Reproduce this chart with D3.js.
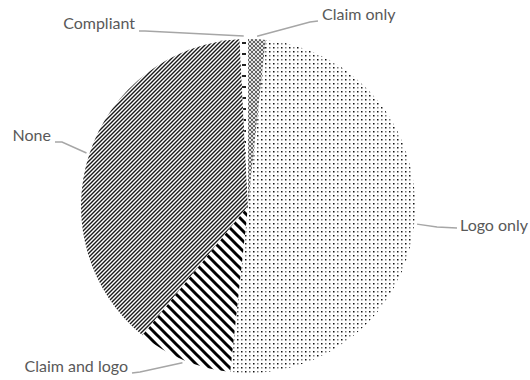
<!DOCTYPE html>
<html>
<head>
<meta charset="utf-8">
<script src="https://cdn.jsdelivr.net/npm/d3@7"></script>
<style>
  html, body { margin: 0; padding: 0; background: #fff; }
  svg { display: block; }
  .lbl { font-family: Lato, "Open Sans", sans-serif; font-size: 16px; fill: #595959; }
</style>
</head>
<body>
<div id="chart"></div>
<script>
// slices clockwise from 12 o'clock (share of labels, %)
const categories = ["Claim only", "Logo only", "Claim and logo", "None", "Compliant"];
const values = [1.7, 50.0, 9.2, 38.3, 0.8];

const W = 530, H = 380;
const cx = 248, cy = 206, R = 167;

// where each label sits and how its leader bends (layout only)
const labelLayout = {
  "Claim only":     { x: 322, y: 20,  anchor: "start", leader: [[318, 21], [310, 22]] },
  "Logo only":      { x: 460, y: 231, anchor: "start", leader: [[457, 228], [437, 227]] },
  "Claim and logo": { x: 128, y: 372, anchor: "end",   leader: [[132, 373], [140, 372]] },
  "None":           { x: 51,  y: 141, anchor: "end",   leader: [[55, 142], [62, 142]] },
  "Compliant":      { x: 135, y: 29,  anchor: "end",   leader: [[139, 31], [145, 31]] },
};

const svg = d3.select("#chart").append("svg")
  .attr("width", W).attr("height", H);
const defs = svg.append("defs");

function pattern(id, w, h) {
  const p = defs.append("pattern").attr("id", id)
    .attr("patternUnits", "userSpaceOnUse").attr("width", w).attr("height", h);
  p.append("rect").attr("width", w).attr("height", h).attr("fill", "#fff");
  return p;
}

// Logo only: light dot grid
const pDots = pattern("p-dots", 8, 8);
[[1, 1, "#111"], [5, 1, "#777"], [1, 5, "#777"], [5, 5, "#111"]].forEach(([x, y, c]) =>
  pDots.append("rect").attr("x", x).attr("y", y).attr("width", 1.5).attr("height", 1.5).attr("fill", c));

// None: dense upward diagonal
pattern("p-updiag", 4, 4).append("path")
  .attr("d", "M0,4 L4,0 M-1,1 L1,-1 M3,5 L5,3")
  .attr("stroke", "#1a1a1a").attr("stroke-width", 1.4);

// Claim and logo: wide downward diagonal
pattern("p-wide", 10, 10).append("path")
  .attr("d", "M0,0 L10,10 M-5,5 L5,15 M5,-5 L15,5")
  .attr("stroke", "#000").attr("stroke-width", 3);

// Compliant: dashed horizontal
const pDash = pattern("p-dash", 8, 11);
pDash.append("rect").attr("x", 2).attr("y", 1).attr("width", 4).attr("height", 2).attr("fill", "#222");

// Claim only: small spheres
const pSph = pattern("p-sphere", 4, 4);
pSph.append("circle").attr("cx", 2).attr("cy", 2).attr("r", 1.6)
  .attr("fill", "none").attr("stroke", "#333").attr("stroke-width", 0.8);

const fills = {
  "Claim only": "url(#p-sphere)",
  "Logo only": "url(#p-dots)",
  "Claim and logo": "url(#p-wide)",
  "None": "url(#p-updiag)",
  "Compliant": "url(#p-dash)",
};

const rows = categories.map((c, i) => ({ label: c, value: values[i] }));
const pie = d3.pie().sort(null).value(d => d.value).startAngle(0).endAngle(2 * Math.PI);
const arcs = pie(rows);
const arc = d3.arc().innerRadius(0).outerRadius(R);
const edge = d3.arc().innerRadius(R + 3).outerRadius(R + 3);

const g = svg.append("g").attr("transform", `translate(${cx},${cy})`);
g.selectAll("path.slice").data(arcs).join("path")
  .attr("class", "slice")
  .attr("d", arc)
  .attr("fill", d => fills[d.data.label]);

// leaders + labels
const line = d3.line();
arcs.forEach(d => {
  const lay = labelLayout[d.data.label];
  const [ex, ey] = edge.centroid(d);
  svg.append("path")
    .attr("d", line([...lay.leader, [cx + ex, cy + ey]]))
    .attr("fill", "none").attr("stroke", "#a6a6a6").attr("stroke-width", 1.5);
  svg.append("text").attr("class", "lbl")
    .attr("x", lay.x).attr("y", lay.y)
    .attr("text-anchor", lay.anchor)
    .text(d.data.label);
});
</script>
</body>
</html>
